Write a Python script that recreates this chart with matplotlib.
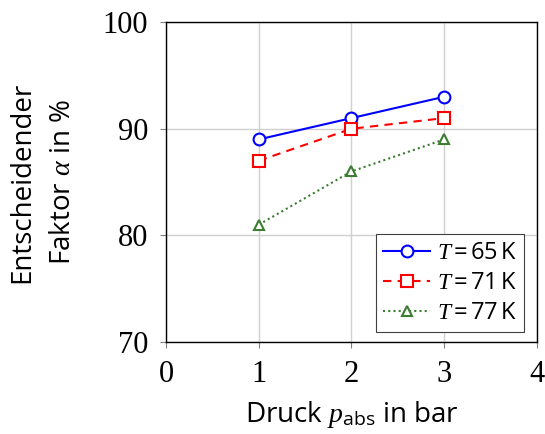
import matplotlib.pyplot as plt

plt.rcParams['font.family'] = 'Open Sans'
plt.rcParams['mathtext.fontset'] = 'custom'
plt.rcParams['mathtext.rm'] = 'Open Sans'
plt.rcParams['mathtext.it'] = 'Liberation Serif:italic'

pressure = [1, 2, 3]
alpha_65 = [89, 91, 93]
alpha_71 = [87, 90, 91]
alpha_77 = [81, 86, 89]
labels = [r'$T = 65\,\mathrm{K}$', r'$T = 71\,\mathrm{K}$', r'$T = 77\,\mathrm{K}$']

fig = plt.figure(figsize=(5.45, 4.34), dpi=100)
ax = fig.add_axes([0.3046, 0.212, 0.6807, 0.737])

ax.plot(pressure, alpha_65, color='blue', ls='-', lw=1.5, marker='o', ms=8.5,
        mfc='white', mew=1.5, label=labels[0])
ax.plot(pressure, alpha_71, color='red', ls=(0, (4, 3)), lw=1.5, marker='s', ms=8.5,
        mfc='white', mew=1.5, label=labels[1])
ax.plot(pressure, alpha_77, color='#3c7d32', ls=(0, (1, 1.5)), lw=1.5, marker='^', ms=7.5,
        mfc='white', mew=1.5, label=labels[2])

ax.set_xlim(0, 4)
ax.set_ylim(70, 100)
ax.set_xticks([0, 1, 2, 3, 4])
ax.set_yticks([70, 80, 90, 100])
ax.grid(True, color='#d0d0d0', lw=1)
ax.set_axisbelow(True)
ax.tick_params(direction='out', length=4, color='#808080', labelsize=22, pad=9)
for lab in ax.get_xticklabels() + ax.get_yticklabels():
    lab.set_family('Liberation Serif')
for sp in ax.spines.values():
    sp.set_linewidth(1)

ax.set_xlabel(r'Druck $p_\mathrm{abs}$ in bar', fontsize=20, labelpad=7)
ax.set_ylabel('Entscheidender\n' + r'Faktor $\alpha$ in %', fontsize=20,
              labelpad=18, linespacing=1.65)

leg = ax.legend(loc='lower right', fontsize=17, frameon=True, fancybox=False,
                edgecolor='#404040', framealpha=1, handlelength=2.0,
                borderpad=0.3, labelspacing=0.25, handletextpad=0.3,
                borderaxespad=0.3, bbox_to_anchor=(0.985, 0.008))
leg.get_frame().set_linewidth(0.8)

fig.savefig('out.png', dpi=100)
